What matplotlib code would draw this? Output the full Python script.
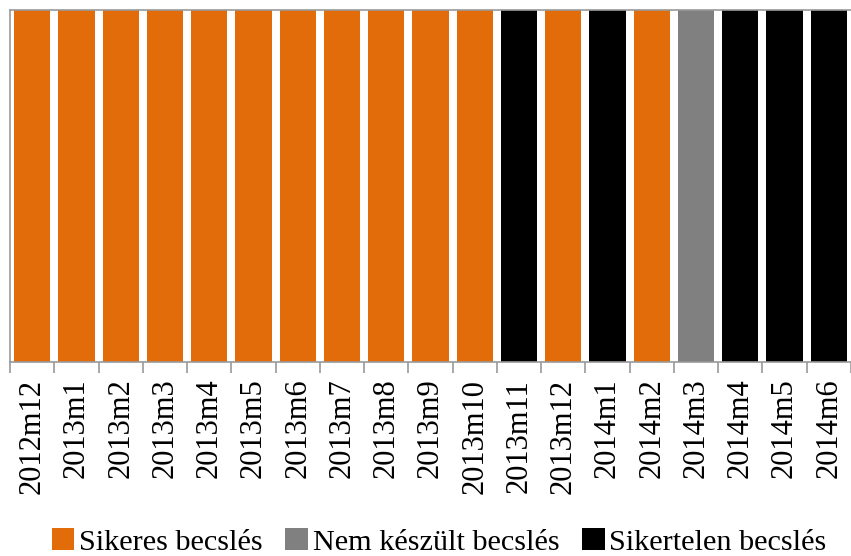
import matplotlib
matplotlib.use("Agg")
import matplotlib.pyplot as plt
import numpy as np

categories = ["2012m12", "2013m1", "2013m2", "2013m3", "2013m4", "2013m5", "2013m6",
              "2013m7", "2013m8", "2013m9", "2013m10", "2013m11", "2013m12", "2014m1",
              "2014m2", "2014m3", "2014m4", "2014m5", "2014m6"]
sikeres =    [1, 1, 1, 1, 1, 1, 1, 1, 1, 1, 1, 0, 1, 0, 1, 0, 0, 0, 0]
nem_keszult = [0, 0, 0, 0, 0, 0, 0, 0, 0, 0, 0, 0, 0, 0, 0, 1, 0, 0, 0]
sikertelen = [0, 0, 0, 0, 0, 0, 0, 0, 0, 0, 0, 1, 0, 1, 0, 0, 1, 1, 1]

series_names = ["Sikeres becslés", "Nem készült becslés", "Sikertelen becslés"]
colors = ["#E36C0A", "#808080", "#000000"]

plt.rcParams['font.family'] = ['Liberation Serif', 'DejaVu Serif']

fig = plt.figure(figsize=(8.51, 5.56), dpi=100)
ax = fig.add_axes([10/851, 194/556, 841/851, 352/556])

x = np.arange(len(categories))
bottom = np.zeros(len(categories))
for vals, name, col in zip([sikeres, nem_keszult, sikertelen], series_names, colors):
    ax.bar(x, vals, width=0.82, bottom=bottom, color=col, label=name)
    bottom += np.array(vals)

ax.set_xlim(-0.5, len(categories) - 0.5)
ax.set_ylim(0, 1)
ax.set_yticks([])

ax.set_xticks(np.arange(len(categories) + 1) - 0.5)
ax.set_xticklabels([])
ax.tick_params(axis='x', which='major', length=8, color='#999999', width=1.2)
ax.set_xticks(x, minor=True)
ax.set_xticklabels(categories, minor=True, rotation=90, fontsize=22)
ax.tick_params(axis='x', which='minor', length=0, pad=12)

for s in ['left', 'bottom', 'top']:
    ax.spines[s].set_color('#999999')
    ax.spines[s].set_linewidth(1.2)
ax.spines['right'].set_visible(False)

leg = fig.legend(loc='center', bbox_to_anchor=(0.516, 1 - 542/556), ncol=3,
                 frameon=False, fontsize=21.8, handlelength=0.75, handleheight=0.75,
                 handletextpad=0.15, columnspacing=0.75)

fig.savefig("out.png", dpi=100)
